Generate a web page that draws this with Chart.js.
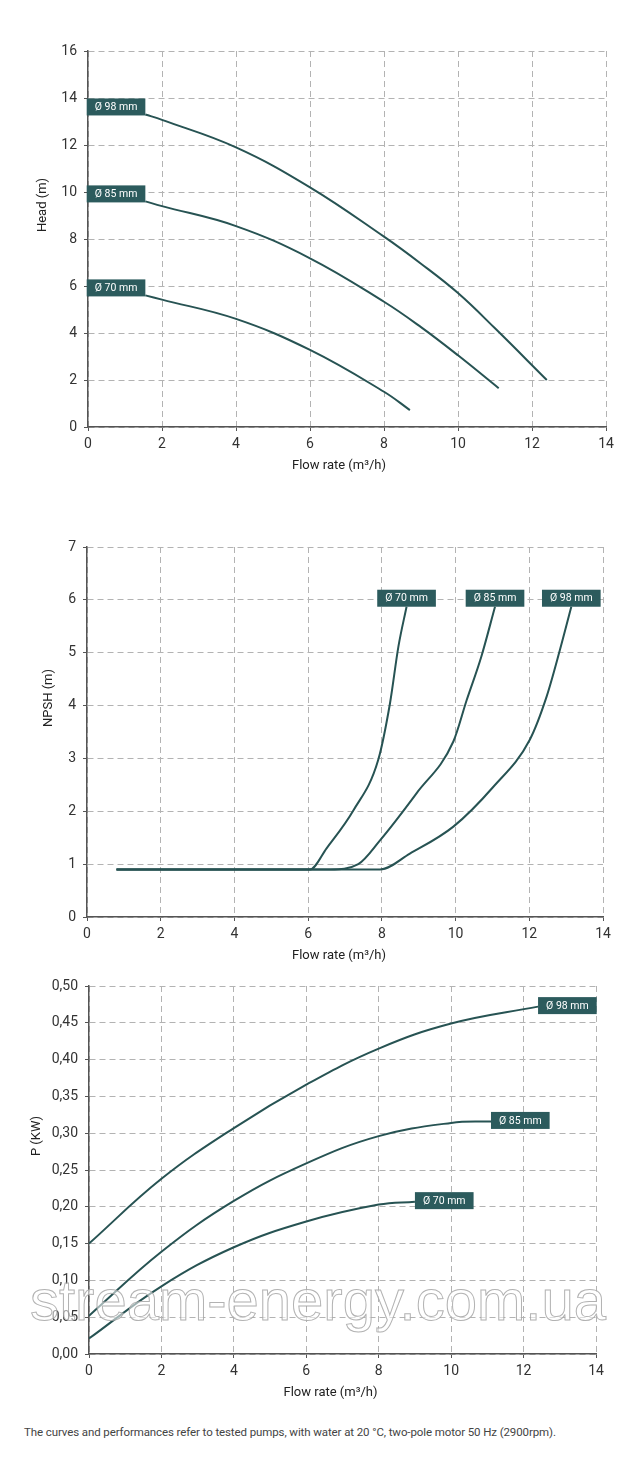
<!DOCTYPE html>
<html>
<head>
<meta charset="utf-8">
<script src="https://cdn.jsdelivr.net/npm/chart.js@4.4.0/dist/chart.umd.min.js"></script>
<style>
  body { margin: 0; width: 640px; height: 1476px; background: #fff; position: relative; overflow: hidden; font-family: Roboto, sans-serif; }
  canvas { position: absolute; left: 0; }
  #note { position: absolute; left: 24px; top: 1425px; font-size: 11.5px; color: #444; white-space: nowrap; letter-spacing: -0.1px; }
  #wm { position: absolute; left: 30px; top: 1271px; font-family: "Liberation Sans", sans-serif; font-size: 58px; line-height: 58px;
        color: rgba(255,255,255,0.55); -webkit-text-stroke: 1px rgba(165,165,165,0.85); white-space: nowrap; pointer-events: none; }
</style>
</head>
<body>
<canvas id="headChart" width="640" height="480" style="top:0"></canvas>
<canvas id="npshChart" width="640" height="470" style="top:500px"></canvas>
<canvas id="powerChart" width="640" height="440" style="top:970px"></canvas>
<div id="wm">stream-energy.com.ua</div>
<div id="note">The curves and performances refer to tested pumps, with water at 20 °C, two-pole motor 50 Hz (2900rpm).</div>
<script>
// impeller sizes
var impellers = ['Ø 98 mm', 'Ø 85 mm', 'Ø 70 mm'];

// head (m) vs flow (m3/h)
var flowHead98 = [1.55, 2, 4, 6, 8, 9, 10, 11, 12.4];
var head98 = [13.3, 13.07, 11.9, 10.2, 8.1, 6.95, 5.7, 4.2, 2.0];
var flowHead85 = [1.55, 2, 4, 6, 8, 9, 10, 11.1];
var head85 = [9.6, 9.4, 8.55, 7.18, 5.33, 4.25, 3.05, 1.65];
var flowHead70 = [1.55, 2, 4, 6, 8, 8.7];
var head70 = [5.6, 5.42, 4.6, 3.28, 1.5, 0.72];

// NPSH (m) vs flow
var flowNpsh98 = [0.8, 7.95, 8.76, 9.94, 11.02, 12.01, 12.47, 12.83, 13.14];
var npsh98 = [0.9, 0.9, 1.2, 1.71, 2.46, 3.35, 4.17, 5.05, 5.87];
var flowNpsh85 = [0.8, 6.6, 7.36, 7.95, 8.94, 9.94, 10.3, 10.7, 11.07];
var npsh85 = [0.9, 0.9, 1.0, 1.45, 2.34, 3.32, 4.1, 4.93, 5.87];
var flowNpsh70 = [0.8, 6.05, 6.5, 7.23, 7.9, 8.22, 8.45, 8.67];
var npsh70 = [0.9, 0.9, 1.3, 2.02, 2.97, 4.04, 5.12, 5.87];

// power (kW) vs flow
var flowPower98 = [0, 2, 4, 6, 8, 10, 12.4];
var power98 = [0.15, 0.238, 0.307, 0.366, 0.415, 0.449, 0.472];
var flowPower85 = [0, 2, 4, 6, 8, 10, 11.1];
var power85 = [0.052, 0.139, 0.208, 0.259, 0.296, 0.314, 0.316];
var flowPower70 = [0, 2, 4, 6, 8, 9];
var power70 = [0.021, 0.092, 0.145, 0.180, 0.203, 0.207];

var flowMax = 14, flowStep = 2;
var headMax = 16, headStep = 2;
var npshMax = 7, npshStep = 1;
var powerMax = 0.5, powerStep = 0.05;

var lineColor = '#275353';
var boxColor = '#2c5b5d';

Chart.defaults.font.family = 'Roboto';
Chart.defaults.color = '#333';

function series(xs, ys) {
    return xs.map(function (x, i) { return { x: x, y: ys[i] }; });
}

// draws the "Ø xx mm" boxes at one end of each curve
var curveLabels = {
    id: 'curveLabels',
    afterDatasetsDraw: function (chart, args, opts) {
        var ctx = chart.ctx;
        ctx.save();
        ctx.font = '10.5px Roboto';
        chart.data.datasets.forEach(function (ds, i) {
            var pts = chart.getDatasetMeta(i).data;
            var p = opts.at === 'start' ? pts[0] : pts[pts.length - 1];
            var w = ctx.measureText(ds.label).width + 16, h = 17;
            var x, y;
            if (opts.place === 'left') { x = p.x - w; y = p.y - h + 1; }
            else if (opts.place === 'above') { x = p.x - w / 2; y = p.y - h; }
            else { x = p.x; y = p.y - h / 2 - 1; }
            ctx.fillStyle = boxColor;
            ctx.fillRect(x, y, w, h);
            ctx.fillStyle = '#fff';
            ctx.textAlign = 'center';
            ctx.textBaseline = 'middle';
            ctx.fillText(ds.label, x + w / 2, y + h / 2 + 0.5);
        });
        ctx.restore();
    }
};

// axis titles placed like in the original sheet
var axisTitles = {
    id: 'axisTitles',
    afterDraw: function (chart, args, opts) {
        var ctx = chart.ctx, a = chart.chartArea;
        ctx.save();
        ctx.fillStyle = '#222';
        ctx.font = '13px Roboto';
        ctx.textAlign = 'center';
        ctx.textBaseline = 'middle';
        ctx.fillText(opts.x, (a.left + a.right) / 2 + opts.xShift, a.bottom + 39);
        ctx.translate(opts.yX, (a.top + a.bottom) / 2 - 34);
        ctx.rotate(-Math.PI / 2);
        ctx.fillText(opts.y, 0, 0);
        ctx.restore();
    }
};

function makeChart(id, sets, cfg) {
    var canvas = document.getElementById(id);
    var grid = { color: '#b3b3b3', lineWidth: 1, tickLength: 4, tickColor: '#555', tickBorderDash: [] };
    var border = { color: '#555', width: 1.5, dash: [6, 4] };
    return new Chart(canvas, {
        type: 'line',
        data: {
            datasets: sets.map(function (s, i) {
                var ds = { label: impellers[i], data: s, borderColor: lineColor, borderWidth: 2,
                           pointRadius: 0, fill: false, tension: 0.4 };
                if (cfg.monotone) ds.cubicInterpolationMode = 'monotone';
                return ds;
            })
        },
        plugins: [curveLabels, axisTitles],
        options: {
            responsive: false,
            animation: false,
            layout: { padding: { top: cfg.top, right: 640 - cfg.right, bottom: 0, left: 0 } },
            plugins: {
                legend: { display: false },
                tooltip: { enabled: false },
                curveLabels: { at: cfg.labelAt, place: cfg.labelPlace },
                axisTitles: { x: 'Flow rate (m³/h)', y: cfg.yTitle, yX: cfg.yTitleX, xShift: cfg.xShift }
            },
            scales: {
                x: {
                    type: 'linear', min: 0, max: flowMax,
                    ticks: { stepSize: flowStep, padding: 5, font: { size: 14 }, color: '#333' },
                    grid: grid, border: border,
                    afterFit: function (s) { s.height = canvas.height - cfg.bottom; }
                },
                y: {
                    type: 'linear', min: 0, max: cfg.yMax,
                    ticks: { stepSize: cfg.yStep, padding: 7, font: { size: 14 }, color: '#333',
                             callback: cfg.fmt },
                    grid: grid, border: border,
                    afterFit: function (s) { s.width = cfg.left; }
                }
            }
        }
    });
}

makeChart('headChart',
    [series(flowHead98, head98), series(flowHead85, head85), series(flowHead70, head70)],
    { top: 51, bottom: 427, left: 88, right: 606, yMax: headMax, yStep: headStep,
      yTitle: 'Head (m)', yTitleX: 43, xShift: -8, labelAt: 'start', labelPlace: 'left' });

makeChart('npshChart',
    [series(flowNpsh98, npsh98), series(flowNpsh85, npsh85), series(flowNpsh70, npsh70)],
    { top: 47, bottom: 417, left: 87, right: 603, yMax: npshMax, yStep: npshStep, monotone: true,
      yTitle: 'NPSH (m)', yTitleX: 49, xShift: -6, labelAt: 'end', labelPlace: 'above' });

makeChart('powerChart',
    [series(flowPower98, power98), series(flowPower85, power85), series(flowPower70, power70)],
    { top: 16, bottom: 384, left: 89, right: 596, yMax: powerMax, yStep: powerStep,
      yTitle: 'P (KW)', yTitleX: 37, xShift: -12, labelAt: 'end', labelPlace: 'right',
      fmt: function (v) { return v.toFixed(2).replace('.', ','); } });
</script>
</body>
</html>
